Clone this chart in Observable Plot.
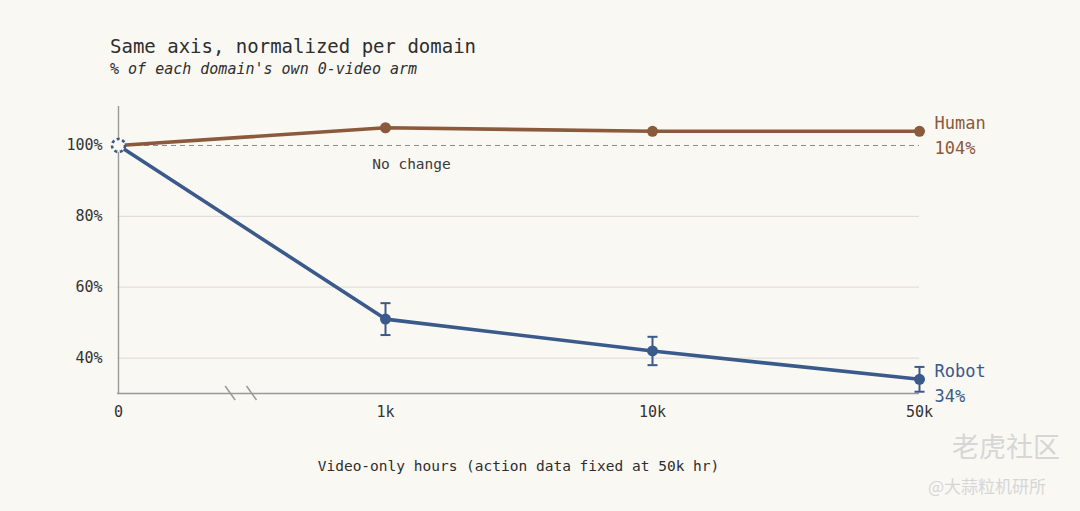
<!DOCTYPE html>
<html><head><meta charset="utf-8">
<script src="https://cdn.jsdelivr.net/npm/d3@7"></script>
<script src="https://cdn.jsdelivr.net/npm/@observablehq/plot@0.6"></script>
<style>
html,body{margin:0;padding:0;background:#faf8f3;width:1080px;height:511px;overflow:hidden;font-family:"DejaVu Sans Mono",monospace;}
#wrap{position:relative;width:1080px;height:511px;}
#title{position:absolute;left:110px;top:35px;font-size:19px;line-height:22px;color:#2e2e2e;white-space:nowrap;}
#subtitle{position:absolute;left:110px;top:60px;font-size:15px;line-height:18px;font-style:italic;color:#2e2e2e;white-space:nowrap;}
#chart{position:absolute;left:0;top:90px;}
.wm{position:absolute;font-family:"Noto Sans CJK SC",sans-serif;color:#d6d6d6;white-space:nowrap;}
</style>
</head><body>
<div id="wrap">
  <div id="title"></div>
  <div id="subtitle"></div>
  <div id="chart"></div>
  <div class="wm" style="left:952px;top:430px;font-size:27px;line-height:32px;">老虎社区</div>
  <div class="wm" style="left:928px;top:476px;font-size:17px;line-height:20px;">@大蒜粒机研所</div>
</div>
<script>
const titleText = "Same axis, normalized per domain";
const subtitleText = "% of each domain's own 0-video arm";
const xLabel = "Video-only hours (action data fixed at 50k hr)";
const hours = ["0", "1k", "10k", "50k"];
const human = [100, 105, 104, 104];
const robot = [100, 51, 42, 34];
const robotLo = [null, 46.5, 38, 30.5];
const robotHi = [null, 55.5, 46, 37.5];
const yTicks = [40, 60, 80, 100];
const seriesNames = ["Human", "Robot"];
const seriesColors = ["#8b5a3c", "#3b5a8c"];
const baselineLabel = "No change";

document.getElementById("title").textContent = titleText;
document.getElementById("subtitle").textContent = subtitleText;

const bg = "#faf8f3";
const rows = [];
hours.forEach((h, i) => {
  rows.push({hours: h, value: human[i], series: "Human", i});
  rows.push({hours: h, value: robot[i], series: "Robot", i});
});
const pts = rows.filter(d => d.i > 0);
const err = hours.map((h, i) => ({hours: h, lo: robotLo[i], hi: robotHi[i]})).filter(d => d.lo != null);
const ends = seriesNames.map((s, k) => {
  const v = (k === 0 ? human : robot)[hours.length - 1];
  return {hours: hours[hours.length - 1], value: v, series: s, label: `${s}\n${v}%`};
});
const capSymbol = {draw(ctx) { ctx.moveTo(-5, 0); ctx.lineTo(5, 0); }};

function breakMarks(index, scales) {
  const x0 = scales.x(hours[0]), x1 = scales.x(hours[1]);
  const y = scales.y(scales.y.domain ? 30 : 30);
  const g = d3.create("svg:g");
  for (const f of [0.42, 0.50]) {
    const cx = x0 + f * (x1 - x0);
    g.append("line").attr("x1", cx - 5).attr("y1", y - 7).attr("x2", cx + 5).attr("y2", y + 7)
      .attr("stroke", "#9a9a9a").attr("stroke-width", 1.5);
  }
  return g.node();
}

const chart = Plot.plot({
  width: 1080, height: 421,
  marginLeft: 117, marginRight: 161, marginTop: 16, marginBottom: 118,
  style: {background: "transparent", fontFamily: "DejaVu Sans Mono, monospace", fontSize: "14.5px", color: "#333"},
  x: {type: "point", domain: hours, padding: 0, axis: null},
  y: {domain: [30, 111], axis: null},
  color: {domain: seriesNames, range: seriesColors},
  marks: [
    Plot.ruleY([40, 60, 80], {stroke: "#e2dfd9", strokeWidth: 1.3}),
    Plot.ruleY([100], {stroke: "#8a8a8a", strokeWidth: 1, strokeDasharray: "5,4"}),
    Plot.ruleX([hours[0]], {stroke: "#999", strokeWidth: 1.4}),
    Plot.ruleY([30], {stroke: "#999", strokeWidth: 1.4}),
    breakMarks,
    Plot.axisY(yTicks, {tickSize: 0, tickPadding: 15, tickFormat: d => d + "%", fontSize: 15, fill: "#333", label: null}),
    Plot.axisX(hours, {tickSize: 0, tickPadding: 13, fontSize: 15, fill: "#333", label: null}),
    Plot.text([xLabel], {frameAnchor: "bottom", lineAnchor: "middle", dy: 73, fontSize: 14.5, fill: "#2e2e2e"}),
    Plot.text([baselineLabel], {x: () => hours[1], y: () => 100, dx: 26, dy: 19, fontSize: 14.5, fill: "#3a3a3a"}),
    Plot.ruleX(err, {x: "hours", y1: "lo", y2: "hi", stroke: seriesColors[1], strokeWidth: 2}),
    Plot.dot(err, {x: "hours", y: "lo", symbol: capSymbol, fill: "none", stroke: seriesColors[1], strokeWidth: 2}),
    Plot.dot(err, {x: "hours", y: "hi", symbol: capSymbol, fill: "none", stroke: seriesColors[1], strokeWidth: 2}),
    Plot.line(rows, {x: "hours", y: "value", z: "series", stroke: "series", strokeWidth: 3.6}),
    Plot.dot(pts, {x: "hours", y: "value", fill: "series", r: 5.5}),
    Plot.dot([{hours: hours[0], value: robot[0]}], {x: "hours", y: "value", r: 6.5, fill: bg, stroke: seriesColors[1], strokeWidth: 2.6, strokeDasharray: "3,2.6"}),
    Plot.text(ends, {x: "hours", y: "value", text: "label", fill: "series", textAnchor: "start", lineAnchor: "middle", dx: 15, dy: 2, lineHeight: 1.45, fontSize: 17})
  ]
});
document.getElementById("chart").appendChild(chart);
</script>
</body></html>
